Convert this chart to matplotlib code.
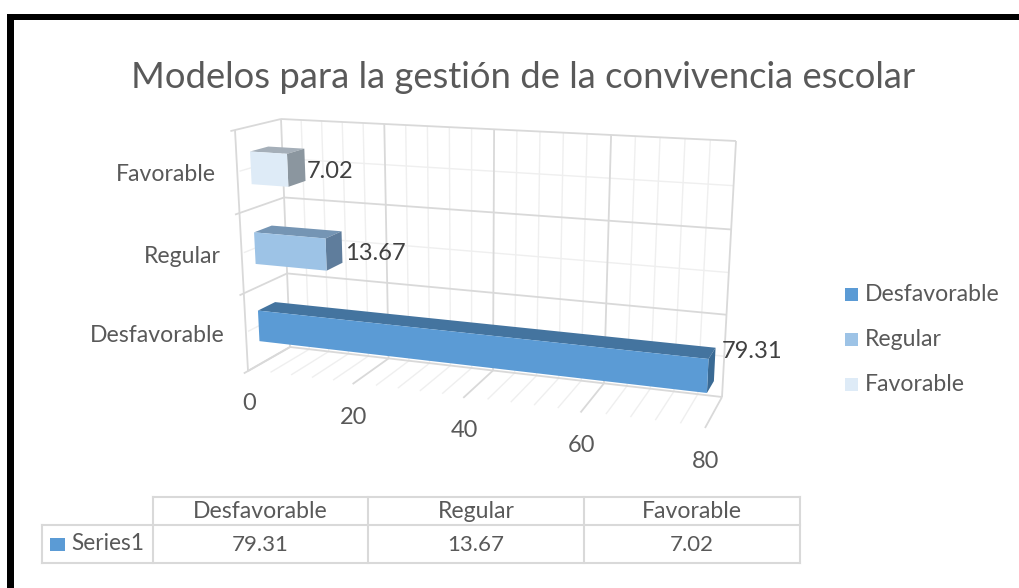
import matplotlib
matplotlib.use('Agg')
import matplotlib.pyplot as plt
from matplotlib.patches import Polygon, Rectangle
import numpy as np

title = 'Modelos para la gestión de la convivencia escolar'
categories = ['Desfavorable', 'Regular', 'Favorable']
values = [79.31, 13.67, 7.02]
value_labels = ['79.31', '13.67', '7.02']
series_name = 'Series1'
value_ticks = [0, 20, 40, 60, 80]
minor_step = 4

front_colors = ['#5B9BD5', '#9DC3E6', '#DEEBF7']
top_colors = ['#44749F', '#7595B4', '#A5AFB9']
side_colors = ['#3A6A94', '#5F7D9C', '#8B969F']
text_color = '#595959'
grid_major = '#D9D9D9'
grid_minor = '#EFEFEF'

plt.rcParams['font.family'] = ['Lato', 'DejaVu Sans']

# corners of the 3d box in the picture, order: (0,0) (80,0) (80,3) (0,3)
back_corners = [(290, 347), (722, 397), (736, 141), (281, 119)]
front_corners = [(248, 371), (705, 428), (717, 159), (235, 130)]
max_value = 80
n_cat = len(categories)


def homography(corners):
    src = [(0, 0), (max_value, 0), (max_value, n_cat), (0, n_cat)]
    rows = []
    rhs = []
    for (u, v), (x, y) in zip(src, corners):
        rows.append([u, v, 1, 0, 0, 0, -u * x, -v * x])
        rows.append([0, 0, 0, u, v, 1, -u * y, -v * y])
        rhs += [x, y]
    h = np.linalg.solve(np.array(rows, float), np.array(rhs, float))
    return np.append(h, 1).reshape(3, 3)


H_back = homography(back_corners)
H_front = homography(front_corners)


def project(value, cat, depth):
    # depth 0 = back wall, 1 = front of the floor
    out = []
    for H in (H_back, H_front):
        p = H @ np.array([value, cat, 1.0])
        out.append(p[:2] / p[2])
    return out[0] * (1 - depth) + out[1] * depth


def line3d(ax, a, b, color, lw):
    p = project(*a)
    q = project(*b)
    ax.plot([p[0], q[0]], [p[1], q[1]], color=color, lw=lw, solid_capstyle='butt', zorder=1)


def draw_walls(ax):
    minors = np.arange(0, max_value + 1, minor_step)
    for v in minors:
        if v in value_ticks:
            continue
        line3d(ax, (v, 0, 0), (v, n_cat, 0), grid_minor, 1.0)
        line3d(ax, (v, 0, 0), (v, 0, 0.95), grid_minor, 1.0)
    for c in np.arange(0.5, n_cat, 1):
        line3d(ax, (0, c, 0), (max_value, c, 0), grid_minor, 1.0)
        line3d(ax, (0, c, 0), (0, c, 0.95), grid_minor, 1.0)
    for v in value_ticks:
        line3d(ax, (v, 0, 0), (v, n_cat, 0), grid_major, 1.3)
        line3d(ax, (v, 0, 0), (v, 0, 1), grid_major, 1.3)
    for c in range(n_cat + 1):
        line3d(ax, (0, c, 0), (max_value, c, 0), grid_major, 1.3)
        line3d(ax, (0, c, 0), (0, c, 1.1), grid_major, 1.3)
    line3d(ax, (0, 0, 1), (0, n_cat, 1), grid_major, 1.3)


def draw_bars(ax):
    c0, c1 = 0.3, 0.7
    d0, d1 = 0.3, 0.7
    for i, val in enumerate(values):
        lo, hi = i + c0, i + c1
        front = [project(0, lo, d1), project(val, lo, d1), project(val, hi, d1), project(0, hi, d1)]
        top = [project(0, hi, d1), project(val, hi, d1), project(val, hi, d0), project(0, hi, d0)]
        side = [project(val, lo, d1), project(val, lo, d0), project(val, hi, d0), project(val, hi, d1)]
        ax.add_patch(Polygon(top, closed=True, fc=top_colors[i], ec='none', zorder=3 + i * -0.1))
        ax.add_patch(Polygon(side, closed=True, fc=side_colors[i], ec='none', zorder=3 + i * -0.1))
        ax.add_patch(Polygon(front, closed=True, fc=front_colors[i], ec='none', zorder=3.05 + i * -0.1))


def draw_labels(ax):
    for v in value_ticks:
        p = project(v, 0, 1)
        ax.text(p[0] + 1, p[1] + 33, str(v), color=text_color, fontsize=17, ha='center', va='center')
    for i, name in enumerate(categories):
        p = project(0, i + 0.5, 1)
        ax.text(p[0] - 21, p[1] + 3, name, color=text_color, fontsize=16.6, ha='right', va='center')
    # excel puts the data labels a bit off the bar ends, set by eye
    label_spots = [(722, 352), (345, 253), (307, 171)]
    for spot, lab in zip(label_spots, value_labels):
        ax.text(spot[0], spot[1], lab, color='#404040', fontsize=17, ha='left', va='center')


def draw_legend(ax):
    for i, name in enumerate(categories):
        y = 294.5 + 45 * i
        ax.add_patch(Rectangle((845, y - 6.5), 13, 13, fc=front_colors[i], ec='none'))
        ax.text(865, y, name, color=text_color, fontsize=16.6, ha='left', va='center')


def draw_table(ax):
    cols = [153, 368, 584, 800]
    rows = [497, 525, 563]
    left = 42
    for x in cols:
        ax.plot([x, x], [rows[0], rows[2]], color=grid_major, lw=1.5, zorder=1)
    ax.plot([left, left], [rows[1], rows[2]], color=grid_major, lw=1.5, zorder=1)
    ax.plot([cols[0], cols[-1]], [rows[0], rows[0]], color=grid_major, lw=1.5, zorder=1)
    ax.plot([left, cols[-1]], [rows[1], rows[1]], color=grid_major, lw=1.5, zorder=1)
    ax.plot([left, cols[-1]], [rows[2], rows[2]], color=grid_major, lw=1.5, zorder=1)
    ax.add_patch(Rectangle((50, 538), 15, 13, fc=front_colors[0], ec='none'))
    ax.text(71, 544, series_name, color=text_color, fontsize=16.3, ha='left', va='center')
    for i, name in enumerate(categories):
        xc = (cols[i] + cols[i + 1]) / 2
        ax.text(xc, 511, name, color=text_color, fontsize=16.6, ha='center', va='center')
        ax.text(xc, 545, value_labels[i], color=text_color, fontsize=16, ha='center', va='center')


def main():
    fig = plt.figure(figsize=(10.19, 5.88), dpi=100, facecolor='white')
    ax = fig.add_axes([0, 0, 1, 1])
    ax.set_xlim(0, 1019)
    ax.set_ylim(588, 0)
    ax.axis('off')

    # black frame of the screenshot
    ax.add_patch(Rectangle((7, 14), 7, 574, fc='black', ec='none', zorder=5))
    ax.add_patch(Rectangle((7, 14), 1012, 6, fc='black', ec='none', zorder=5))

    ax.text(523.5, 77, title, color=text_color, fontsize=26.2, ha='center', va='center')

    draw_walls(ax)
    draw_bars(ax)
    draw_labels(ax)
    draw_legend(ax)
    draw_table(ax)

    fig.savefig('out.png', dpi=100)


if __name__ == "__main__":
    main()
